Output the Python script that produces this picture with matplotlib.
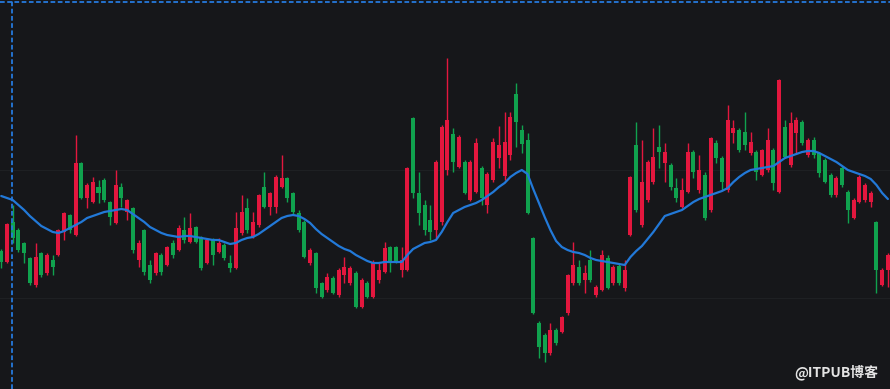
import numpy as np
import matplotlib
matplotlib.use("Agg")
import matplotlib.pyplot as plt

# K线数据 (开/高/低/收), 按时间顺序
opens = [
    14.9, 13.8, 17.8, 17.0, 15.7, 14.2, 11.5, 14.7, 12.7, 14.0,
    14.5, 16.8, 18.5, 16.5, 23.7, 20.2, 19.8, 21.3, 22.0, 19.8,
    17.7, 21.3, 18.8, 19.2, 14.0, 17.0, 13.5, 12.7, 14.5, 13.5,
    15.7, 15.0, 17.0, 15.8, 17.3, 16.3, 13.7, 16.0, 14.8, 15.5,
    13.7, 13.2, 16.7, 19.2, 16.3, 17.5, 21.3, 19.3, 19.3, 21.3,
    22.2, 20.7, 18.7, 17.8, 13.7, 14.7, 11.7, 11.0, 12.2, 10.5,
    12.5, 11.7, 12.7, 9.3, 11.7, 10.3, 12.0, 12.8, 15.3, 15.3,
    13.0, 13.0, 28.2, 20.7, 19.5, 18.0, 17.0, 17.8, 23.0, 26.6,
    23.3, 23.8, 20.0, 20.8, 23.2, 19.5, 22.0, 24.2, 22.4, 24.5,
    30.6, 27.0, 26.0, 16.2, 7.7, 6.5, 4.7, 7.0, 6.8, 8.7,
    11.7, 13.3, 12.0, 14.0, 10.5, 11.0, 14.2, 11.7, 13.4, 11.2,
    16.5, 25.5, 17.5, 20.0, 21.8, 25.3, 23.7, 23.5, 21.2, 19.3,
    20.8, 24.8, 21.0, 22.5, 19.0, 25.7, 24.2, 21.0, 26.7, 27.0,
    26.8, 24.7, 24.8, 22.5, 23.0, 25.0, 20.8, 27.3, 23.5, 26.7,
    27.8, 24.5, 26.0, 24.7, 24.0, 22.5, 20.5, 23.2, 20.8, 18.2,
    19.8, 20.0, 19.8, 17.8, 11.5, 13.0,
]
highs = [
    15.1, 17.7, 19.5, 17.2, 15.8, 14.3, 15.7, 14.8, 14.7, 14.5,
    17.1, 18.8, 18.6, 26.5, 23.8, 21.7, 22.3, 22.0, 22.2, 19.9,
    23.0, 21.7, 20.1, 19.3, 16.0, 17.1, 14.0, 14.8, 14.7, 15.4,
    16.0, 17.5, 18.3, 18.7, 17.4, 16.4, 16.1, 16.2, 16.2, 15.7,
    14.5, 18.8, 20.5, 20.2, 18.8, 20.6, 22.8, 20.8, 22.5, 24.5,
    22.3, 20.8, 19.0, 18.0, 15.2, 14.8, 11.8, 12.7, 12.4, 13.2,
    14.3, 13.4, 12.9, 12.2, 11.9, 14.0, 13.7, 15.8, 15.4, 15.4,
    15.3, 23.3, 28.3, 22.8, 20.0, 19.5, 24.0, 27.5, 34.2, 27.2,
    26.5, 24.0, 24.0, 26.2, 23.4, 22.8, 26.2, 27.4, 28.8, 28.8,
    31.7, 27.5, 26.7, 16.3, 7.9, 6.7, 7.7, 7.2, 8.4, 12.6,
    15.8, 14.0, 13.5, 15.0, 11.5, 15.0, 14.5, 13.5, 13.6, 14.0,
    22.4, 27.8, 26.0, 24.0, 27.2, 27.5, 25.7, 23.7, 22.2, 22.2,
    25.7, 25.0, 24.5, 22.8, 26.3, 26.0, 24.4, 29.5, 28.0, 27.2,
    28.8, 26.8, 25.0, 25.1, 27.2, 25.2, 32.1, 28.0, 28.8, 28.3,
    28.0, 26.2, 26.3, 24.8, 24.2, 22.7, 22.4, 23.4, 21.0, 20.2,
    22.5, 21.7, 20.9, 17.9, 13.2, 14.7,
]
lows = [
    13.2, 13.7, 15.7, 14.8, 13.7, 11.5, 11.3, 12.3, 12.5, 12.5,
    14.4, 16.0, 16.7, 16.4, 20.1, 19.2, 19.7, 19.7, 19.8, 17.5,
    17.6, 19.3, 18.0, 14.7, 13.3, 12.5, 11.7, 12.5, 12.5, 13.4,
    14.2, 14.9, 15.7, 15.7, 15.7, 13.0, 13.6, 13.5, 14.7, 14.0,
    12.8, 13.1, 16.5, 16.7, 16.2, 17.3, 19.2, 18.5, 18.7, 21.2,
    19.8, 18.5, 16.8, 14.2, 13.5, 10.7, 10.2, 10.8, 10.6, 10.3,
    11.7, 11.5, 9.2, 9.2, 10.2, 10.2, 11.7, 12.7, 12.8, 13.7,
    12.3, 12.9, 20.2, 17.5, 16.5, 16.0, 16.2, 17.5, 22.5, 22.8,
    23.2, 20.6, 19.9, 20.7, 19.5, 18.7, 21.8, 23.2, 22.0, 24.0,
    25.3, 24.7, 18.6, 8.6, 4.2, 3.8, 4.5, 5.5, 6.7, 8.5,
    11.5, 11.5, 10.7, 11.8, 10.3, 10.9, 11.1, 11.5, 11.5, 10.9,
    16.4, 18.8, 17.3, 19.8, 21.6, 23.2, 21.8, 21.0, 19.8, 19.2,
    20.7, 22.2, 20.7, 18.0, 18.8, 23.7, 21.0, 20.8, 25.7, 24.8,
    25.0, 24.5, 22.0, 22.4, 22.8, 21.0, 20.7, 24.2, 23.3, 24.7,
    25.5, 24.3, 24.2, 22.3, 21.7, 20.3, 20.3, 21.3, 17.7, 18.1,
    19.7, 19.8, 19.3, 10.7, 11.4, 11.3,
]
closes = [
    13.8, 17.6, 16.2, 15.0, 14.7, 11.7, 14.3, 12.5, 14.5, 13.3,
    17.0, 18.7, 17.0, 23.7, 20.2, 21.5, 21.8, 20.7, 20.0, 18.3,
    21.5, 20.2, 20.0, 15.0, 15.7, 12.8, 12.0, 14.7, 12.8, 15.3,
    14.5, 17.2, 16.0, 17.2, 15.8, 13.2, 16.0, 14.5, 15.7, 14.2,
    13.2, 17.2, 18.8, 17.0, 17.8, 20.5, 19.3, 20.7, 22.3, 22.2,
    20.2, 18.8, 17.0, 14.3, 15.0, 11.2, 10.3, 12.3, 10.7, 13.0,
    13.3, 13.2, 9.3, 12.0, 10.3, 13.7, 13.0, 15.2, 13.7, 13.8,
    14.0, 23.2, 20.7, 18.7, 17.0, 16.8, 23.8, 27.3, 28.0, 23.8,
    26.3, 20.7, 23.8, 25.7, 20.2, 22.6, 25.8, 25.5, 25.8, 28.3,
    27.8, 25.6, 18.7, 8.7, 5.3, 4.7, 7.0, 5.7, 8.3, 12.5,
    13.5, 11.7, 12.7, 12.0, 11.3, 14.5, 11.2, 13.3, 11.7, 13.0,
    22.3, 19.0, 21.8, 23.8, 24.3, 24.8, 24.8, 21.3, 20.2, 21.0,
    24.8, 22.8, 23.0, 18.2, 26.2, 24.2, 21.8, 28.0, 27.2, 25.0,
    25.5, 25.8, 22.8, 25.0, 26.0, 21.7, 32.0, 24.3, 27.7, 28.0,
    25.7, 26.0, 24.5, 22.7, 21.8, 20.5, 22.2, 21.5, 19.0, 20.0,
    22.3, 21.5, 20.7, 13.0, 13.0, 14.5,
]
# 均线 (每根K线一个值)
ma_values = [
    20.4, 20.2, 20.0, 19.5, 19.0, 18.4, 17.9, 17.4, 17.1, 16.8,
    16.7, 16.9, 17.2, 17.5, 17.8, 18.2, 18.4, 18.6, 18.8, 18.9,
    19.0, 19.1, 19.0, 18.6, 18.2, 17.8, 17.3, 17.0, 16.7, 16.5,
    16.4, 16.3, 16.4, 16.4, 16.3, 16.2, 16.1, 16.0, 16.0, 15.8,
    15.6, 15.7, 16.0, 16.2, 16.3, 16.6, 17.0, 17.4, 17.8, 18.2,
    18.4, 18.5, 18.4, 18.1, 17.7, 17.1, 16.6, 16.2, 15.8, 15.4,
    15.1, 14.9, 14.5, 14.2, 13.9, 13.7, 13.7, 13.8, 13.8, 13.8,
    13.8, 14.5, 15.1, 15.4, 15.7, 15.8, 16.0, 16.8, 17.8, 18.7,
    19.0, 19.3, 19.5, 19.7, 20.0, 20.4, 20.8, 21.3, 21.7, 22.3,
    22.7, 23.0, 22.6, 21.1, 19.7, 18.3, 17.0, 15.9, 15.3, 15.0,
    14.8, 14.7, 14.5, 14.2, 14.0, 13.9, 13.8, 13.7, 13.6, 13.5,
    14.3, 14.9, 15.4, 16.1, 16.8, 17.6, 18.4, 18.6, 18.8, 19.0,
    19.4, 19.8, 20.1, 20.3, 20.5, 20.7, 20.9, 21.2, 21.8, 22.3,
    22.7, 23.0, 23.1, 23.2, 23.3, 23.4, 23.8, 24.2, 24.4, 24.6,
    24.8, 24.9, 24.9, 24.7, 24.4, 24.1, 23.8, 23.4, 23.0, 22.8,
    22.6, 22.4, 22.1, 21.5, 20.7, 20.1,
]
grid_levels = [23.0, 10.2]
watermark = "@ITPUB博客"

# 颜色 (红涨绿跌)
BG_COLOR = "#16171a"
UP_COLOR = "#e3173e"
DOWN_COLOR = "#10a24e"
MA_COLOR = "#2279d8"
CROSS_COLOR = "#2579dc"
GRID_COLOR = "#1e2023"


def draw_candles(ax, o, h, l, c):
    o, h, l, c = map(np.asarray, (o, h, l, c))
    x = np.arange(len(o))
    up = c >= o
    colors = np.where(up, UP_COLOR, DOWN_COLOR)
    # 影线
    ax.vlines(x, l, h, colors=colors, linewidth=1.0, zorder=2)
    # 实体
    body = np.maximum(np.abs(c - o), 0.1)
    ax.bar(x, body, bottom=np.minimum(o, c), width=0.7, color=colors,
           linewidth=0, zorder=3)
    return x


def main():
    fig = plt.figure(figsize=(8.9, 3.89), dpi=100, facecolor=BG_COLOR)
    ax = fig.add_axes([0, 0, 1, 1])
    ax.set_facecolor(BG_COLOR)

    for lv in grid_levels:
        ax.axhline(lv, color=GRID_COLOR, linewidth=0.8, zorder=1)

    x = draw_candles(ax, opens, highs, lows, closes)
    ax.plot(x, ma_values, color=MA_COLOR, linewidth=1.6, zorder=4,
            solid_capstyle="round", solid_joinstyle="round")

    # 十字光标 (虚线)
    vl = ax.axvline(1.9, color=CROSS_COLOR, linewidth=1.3, zorder=5)
    vl.set_dashes((2.6, 1.4))
    hl = ax.plot([0, 1], [0.995, 0.995], transform=ax.transAxes,
                 color=CROSS_COLOR, linewidth=1.3, zorder=5)[0]
    hl.set_dashes((2.6, 1.4))

    ax.set_xlim(-0.22, 155.37)
    ax.set_ylim(1.1, 40.0)
    ax.axis("off")

    # 水印
    fig.text(0.9865, 0.044, watermark, ha="right", va="center",
             fontsize=10, fontweight="bold", color="#e4e4e4",
             family=["Noto Sans CJK SC", "DejaVu Sans"])

    fig.savefig("out.png", dpi=100, facecolor=BG_COLOR)


if __name__ == "__main__":
    main()
